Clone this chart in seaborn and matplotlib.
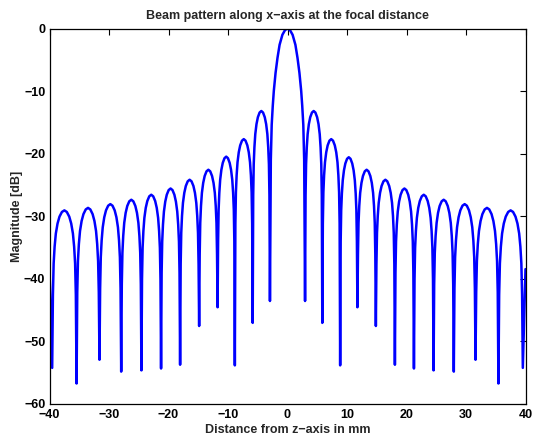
import matplotlib
matplotlib.use("Agg")
import matplotlib.pyplot as plt
import numpy as np
import pandas as pd
import seaborn as sns

# ---- data ----
# null positions (mm) and depths (dB), left to right
null_x = [-39.55, -35.45, -31.6, -27.95, -24.55, -21.25, -18.05, -14.85, -11.75, -8.85, -5.85, -2.95,
          2.95, 5.85, 8.85, 11.75, 14.85, 18.05, 21.25, 24.55, 27.95, 31.6, 35.45, 39.55]
null_db = [-54.3, -56.8, -53.0, -54.9, -54.7, -54.4, -53.8, -47.6, -44.6, -53.9, -47.1, -43.6,
           -43.6, -47.1, -53.9, -44.6, -47.6, -53.8, -54.4, -54.7, -54.9, -53.0, -56.8, -54.3]
# lobe peak levels (dB) between consecutive nulls
peak_db = [-29.1, -28.7, -28.1, -27.4, -26.6, -25.6, -24.2, -22.6, -20.5, -17.7, -13.2,
           0.0,
           -13.2, -17.7, -20.6, -22.6, -24.2, -25.6, -26.6, -27.4, -28.1, -28.7, -29.1]
main_idx = 11
# curve ends at the axis limits
edge_x = [-40.0, 40.0]
edge_db = [-38.5, -38.5]
# lobe outline: fraction of lobe width from a null -> dB below the lobe peak
side_frac = [0.03, 0.06, 0.10, 0.15, 0.22, 0.30, 0.40, 0.50]
side_drop = [-13.5, -8.5, -5.8, -3.7, -2.1, -1.0, -0.25, 0.0]
main_frac = [0.025, 0.05, 0.08, 0.11, 0.16, 0.215, 0.275, 0.355, 0.43, 0.50]
main_drop = [-21.0, -15.4, -12.4, -10.0, -7.1, -4.7, -2.6, -1.0, -0.25, 0.0]

x_ticks = [-40, -30, -20, -10, 0, 10, 20, 30, 40]
y_ticks = [-60, -50, -40, -30, -20, -10, 0]

# ---- assemble the traced curve ----
xs = [edge_x[0]]
ys = [edge_db[0]]
for i, pk in enumerate(peak_db):
    x0, x1 = null_x[i], null_x[i + 1]
    w = x1 - x0
    xs.append(x0)
    ys.append(null_db[i])
    fr, dr = (main_frac, main_drop) if i == main_idx else (side_frac, side_drop)
    for f, d in zip(fr, dr):
        xs.append(x0 + f * w)
        ys.append(pk + d)
    for f, d in zip(fr[-2::-1], dr[-2::-1]):
        xs.append(x1 - f * w)
        ys.append(pk + d)
xs.append(null_x[-1])
ys.append(null_db[-1])
xs.append(edge_x[1])
ys.append(edge_db[1])
df = pd.DataFrame({"x": xs, "db": ys})

sns.set_theme(style="white")
plt.rcParams["font.family"] = ["Liberation Sans", "DejaVu Sans"]
plt.rcParams["font.weight"] = "bold"
plt.rcParams["axes.labelweight"] = "bold"
plt.rcParams["axes.titleweight"] = "bold"

fig = plt.figure(figsize=(5.34, 4.41), dpi=100)
ax = fig.add_axes([49.5 / 534, 1 - 403.5 / 441, 476 / 534, 375 / 441])

sns.lineplot(data=df, x="x", y="db", sort=False, estimator=None, color="#0000ff",
             linewidth=1.8, ax=ax)

ax.set_xlim(-40, 40)
ax.set_ylim(-60, 0)
ax.set_xticks(x_ticks)
ax.set_yticks(y_ticks)
ax.set_xlabel("Distance from z\u2212axis in mm", fontsize=9, fontweight="bold", labelpad=2)
ax.set_ylabel("Magnitude [dB]", fontsize=9, fontweight="bold", labelpad=1)
ax.set_title("Beam pattern along x\u2212axis at the focal distance", fontsize=9,
             fontweight="bold", pad=7)
for s in ax.spines.values():
    s.set_visible(True)
    s.set_color("black")
    s.set_linewidth(0.9)
ax.tick_params(direction="in", top=True, right=True, length=4, width=0.8,
               labelsize=9, colors="black")
ax.tick_params(axis="x", pad=4)
ax.tick_params(axis="y", pad=3)
for lab in ax.get_xticklabels() + ax.get_yticklabels():
    lab.set_fontweight("bold")
ax.grid(False)

fig.savefig("out.png", dpi=100)
